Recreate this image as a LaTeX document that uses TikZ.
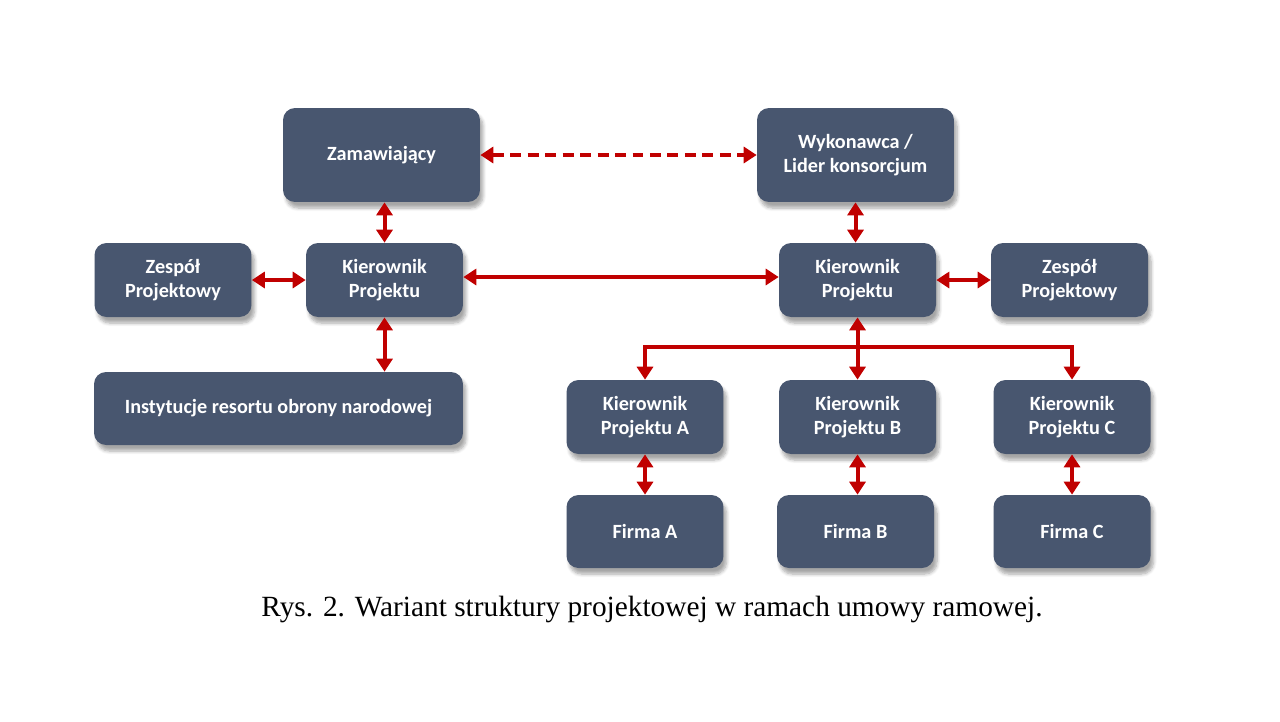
\documentclass[tikz,border=0pt]{standalone}
\usepackage{fontspec}
\setmainfont{Carlito}
\newfontfamily\captionfont{Liberation Serif}
\usetikzlibrary{arrows.meta,shadows.blur}

\definecolor{boxslate}{HTML}{48566F}
\definecolor{linkred}{HTML}{C00000}

\tikzstyle{box}=[rectangle, rounded corners=0.24cm, fill=boxslate, text=white, align=center,
  font=\bfseries\fontsize{11.5}{14}\selectfont, minimum width=3.14cm, minimum height=1.48cm,
  blur shadow={shadow xshift=0.6mm, shadow yshift=-1.2mm, shadow blur steps=6, shadow opacity=35}]
\tikzstyle{link}=[draw=linkred, line width=0.08cm, {Triangle[width=0.32cm,length=0.26cm]}-{Triangle[width=0.32cm,length=0.26cm]}]
\tikzstyle{drop}=[draw=linkred, line width=0.08cm, -{Triangle[width=0.32cm,length=0.26cm]}]

\begin{document}
\begin{tikzpicture}[x=0.02cm, y=-0.02cm]
  \useasboundingbox (0,0) rectangle (1280,721);

  % upper level
  \node[box, minimum width=3.94cm, minimum height=1.88cm] (zam) at (381.5,155) {Zamawiający};
  \node[box, minimum width=3.94cm, minimum height=1.88cm] (wyk) at (855.5,155) {Wykonawca /\\Lider konsorcjum};

  % project managers and teams
  \node[box] (zespL) at (173,280) {Zespół\\Projektowy};
  \node[box] (kierL) at (384.5,280) {Kierownik\\Projektu};
  \node[box] (kierR) at (857.5,280) {Kierownik\\Projektu};
  \node[box] (zespR) at (1069.5,280) {Zespół\\Projektowy};
  \node[box, minimum width=7.38cm, minimum height=1.46cm] (inst) at (278.5,408.5) {Instytucje resortu obrony narodowej};

  % sub-projects
  \node[box] (kierA) at (645,417) {Kierownik\\Projektu A};
  \node[box] (kierB) at (857.5,417) {Kierownik\\Projektu B};
  \node[box] (kierC) at (1072,417) {Kierownik\\Projektu C};
  \node[box, minimum height=1.46cm] (firmaA) at (645,531.5) {Firma A};
  \node[box, minimum height=1.46cm] (firmaB) at (855.5,531.5) {Firma B};
  \node[box, minimum height=1.46cm] (firmaC) at (1072,531.5) {Firma C};

  % connectors
  \draw[link, dash pattern=on 0.22cm off 0.13cm] (zam) -- (wyk);
  \draw[link] (zam.south -| kierL.north) -- (kierL);
  \draw[link] (wyk) -- (wyk.south |- kierR.north);
  \draw[link] (zespL) -- (kierL);
  \draw[link] (kierL.east |- 0,277) -- (kierR.west |- 0,277);
  \draw[link] (kierR) -- (zespR);
  \draw[link] (kierL) -- (kierL.south |- inst.north);
  \draw[link] (kierR) -- (kierB);
  \coordinate (bus) at (857.5,347);
  \draw[drop] (bus) -| (kierA);
  \draw[drop] (bus) -| (kierC);
  \draw[link] (kierA) -- (firmaA);
  \draw[link] (kierB) -- (kierB.south |- firmaB.north);
  \draw[link] (kierC) -- (firmaC);

  \node[font=\captionfont\fontsize{16.7}{19}\selectfont] (caption) at (652,609)
    {Rys. 2. Wariant struktury projektowej w ramach umowy ramowej.};
\end{tikzpicture}
\end{document}
